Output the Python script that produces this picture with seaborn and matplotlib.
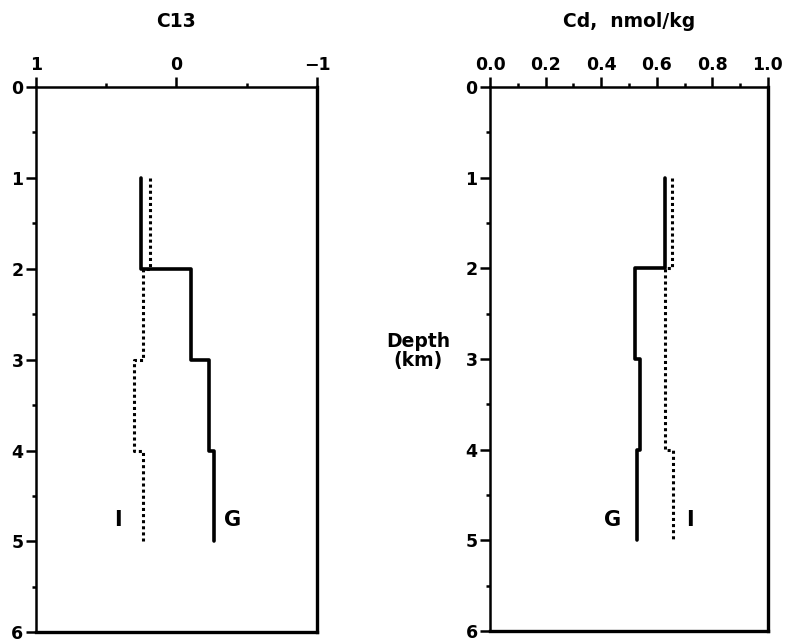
import matplotlib
matplotlib.use("Agg")
import matplotlib.pyplot as plt
from matplotlib.ticker import MultipleLocator
import seaborn as sns
import pandas as pd

# Layer boundaries (km) and layer values
layer_tops = [1, 2, 3, 4]
layer_bottoms = [2, 3, 4, 5]
c13_G = [0.25, -0.10, -0.23, -0.27]
c13_I = [0.19, 0.24, 0.30, 0.24]
cd_G = [0.63, 0.52, 0.54, 0.53]
cd_I = [0.655, 0.63, 0.63, 0.66]

c13_ticks = [1, 0, -1]
cd_ticks = [0.0, 0.2, 0.4, 0.6, 0.8, 1.0]
depth_ticks = [0, 1, 2, 3, 4, 5, 6]


def step_profile(values, tops, bottoms):
    xs, ys = [], []
    for v, t, b in zip(values, tops, bottoms):
        xs += [v, v]
        ys += [t, b]
    return pd.DataFrame({"x": xs, "depth": ys})


sns.set_theme(style="white")
plt.rcParams["font.family"] = ["DejaVu Sans"]
plt.rcParams["font.weight"] = "bold"
plt.rcParams["text.color"] = "black"
plt.rcParams["axes.labelcolor"] = "black"
plt.rcParams["xtick.color"] = "black"
plt.rcParams["ytick.color"] = "black"

fig = plt.figure(figsize=(7.86, 6.43), dpi=100)
ax1 = fig.add_axes([0.0458, 0.0165, 0.3575, 0.8482])
ax2 = fig.add_axes([0.6235, 0.0185, 0.3535, 0.8462])

for ax, g, i, ticks in [(ax1, c13_G, c13_I, c13_ticks), (ax2, cd_G, cd_I, cd_ticks)]:
    dg = step_profile(g, layer_tops, layer_bottoms)
    di = step_profile(i, layer_tops, layer_bottoms)
    sns.lineplot(data=dg, x="x", y="depth", sort=False, estimator=None,
                 color="black", linewidth=2.6, ax=ax)
    sns.lineplot(data=di, x="x", y="depth", sort=False, estimator=None,
                 color="black", linewidth=2.2, linestyle=(0, (1, 1)), ax=ax)
    ax.set_ylim(6, 0)
    ax.set_yticks(depth_ticks)
    ax.yaxis.set_minor_locator(MultipleLocator(0.5))
    ax.set_xticks(ticks)
    ax.xaxis.tick_top()
    ax.xaxis.set_label_position("top")
    ax.tick_params(axis="both", which="major", direction="out", length=7,
                   width=1.8, colors="black", labelsize=12.5, pad=2)
    ax.tick_params(axis="both", which="minor", direction="out", length=3,
                   width=1.8, colors="black")
    ax.tick_params(axis="x", which="both", bottom=False, top=True)
    ax.tick_params(axis="y", which="both", left=True, right=False)
    ax.set_xlabel("")
    ax.set_ylabel("")
    for side, sp in ax.spines.items():
        sp.set_visible(True)
        sp.set_color("black")
        sp.set_linewidth(2.4 if side in ("right", "bottom") else 1.8)
    for lab in ax.get_xticklabels() + ax.get_yticklabels():
        lab.set_fontweight("bold")

ax1.set_xlim(1, -1)
ax1.xaxis.set_minor_locator(MultipleLocator(0.5))
ax1.set_xticklabels(["1", "0", "\u22121"])
ax2.set_xlim(0, 1)
ax2.xaxis.set_minor_locator(MultipleLocator(0.1))
ax2.set_xticklabels(["0.0", "0.2", "0.4", "0.6", "0.8", "1.0"])

ax1.set_title("C13", fontsize=13.5, fontweight="bold", pad=43, color="black")
ax2.set_title("Cd,  nmol/kg", fontsize=13.5, fontweight="bold", pad=43, color="black")

ax1.text(0.42, 4.76, "I", fontsize=15, fontweight="bold", ha="center", va="center")
ax1.text(-0.40, 4.76, "G", fontsize=15, fontweight="bold", ha="center", va="center")
ax2.text(0.44, 4.78, "G", fontsize=15, fontweight="bold", ha="center", va="center")
ax2.text(0.72, 4.78, "I", fontsize=15, fontweight="bold", ha="center", va="center")

ax2.set_ylabel("Depth\n(km)", rotation=0, fontsize=13.5, fontweight="bold",
               ha="center", va="center", linespacing=0.95, color="black")
ax2.yaxis.set_label_coords(-0.26, 0.515)

fig.savefig("out.png", dpi=100, facecolor="white")
